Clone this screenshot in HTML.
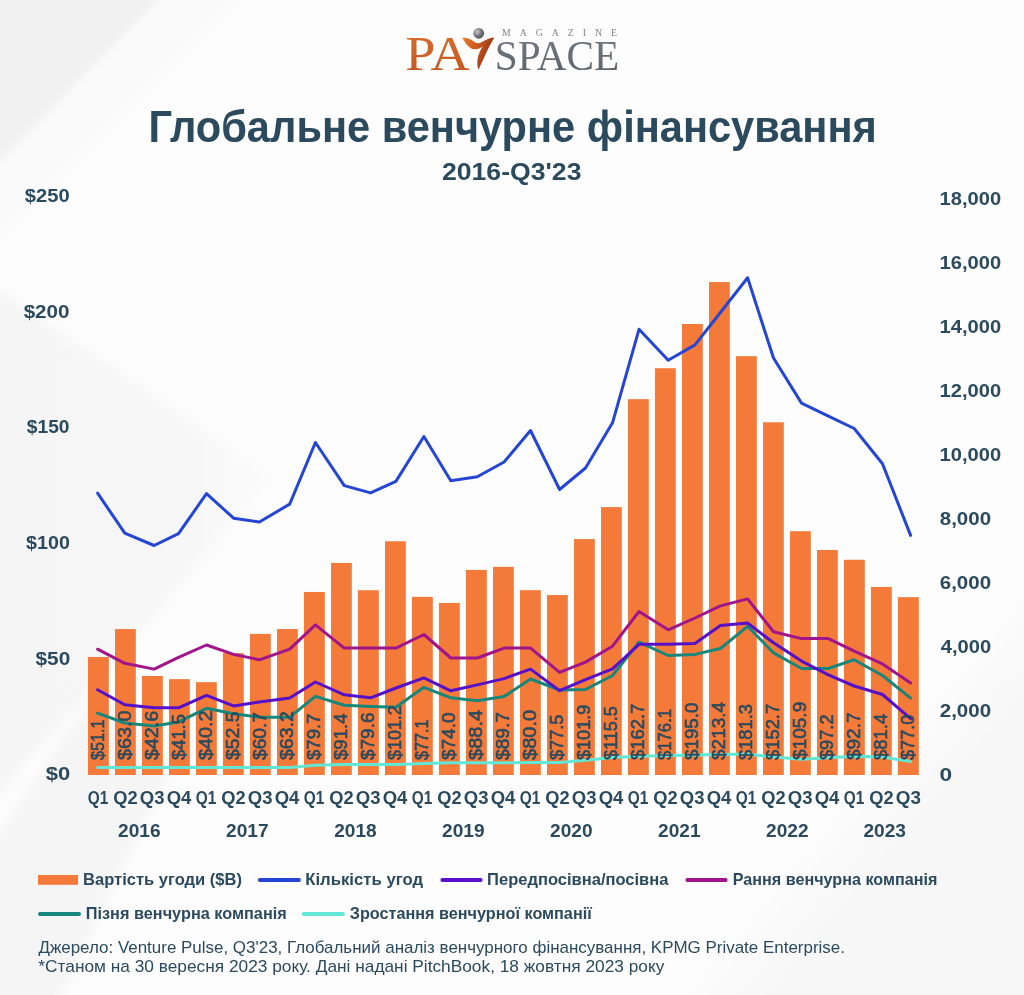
<!DOCTYPE html>
<html><head><meta charset="utf-8"><title>Глобальне венчурне фінансування</title>
<style>html,body{margin:0;padding:0;background:#fdfdfd;width:1024px;height:995px;overflow:hidden}svg{display:block;will-change:transform}</style>
</head><body>
<svg width="1024" height="995" viewBox="0 0 1024 995"><defs>
<linearGradient id="pag" x1="0" y1="0" x2="0" y2="1"><stop offset="0" stop-color="#d9702f"/><stop offset="1" stop-color="#c0541f"/></linearGradient>
<linearGradient id="swg" x1="0" y1="0" x2="1" y2="0.4"><stop offset="0" stop-color="#ea7f2c"/><stop offset="0.55" stop-color="#c65420"/><stop offset="1" stop-color="#8f2f10"/></linearGradient>
<linearGradient id="spg" x1="0" y1="0" x2="0" y2="1"><stop offset="0" stop-color="#747b83"/><stop offset="1" stop-color="#5a6169"/></linearGradient>
<radialGradient id="ballg" cx="0.35" cy="0.35" r="0.7"><stop offset="0" stop-color="#c9cbcd"/><stop offset="0.5" stop-color="#7d8185"/><stop offset="1" stop-color="#4a4e53"/></radialGradient>
</defs>
<rect x="0" y="0" width="1024" height="995" fill="#fdfdfd"/>
<filter id="bl1" x="-20%" y="-20%" width="140%" height="140%"><feGaussianBlur stdDeviation="10"/></filter>
<filter id="bl2" x="-20%" y="-20%" width="140%" height="140%"><feGaussianBlur stdDeviation="30"/></filter>
<g filter="url(#bl2)">
<polygon points="1084,560 1084,1060 660,1060" fill="#f7f7f7"/>
</g>
<g filter="url(#bl1)">
<polygon points="-40,-40 280,-40 -40,280" fill="#fafafb"/>
</g>
<filter id="bl3" x="-20%" y="-20%" width="140%" height="140%"><feGaussianBlur stdDeviation="3"/></filter>
<g filter="url(#bl3)">
<polygon points="-20,-20 178,-20 -20,180" fill="#f1f1f2"/>
<line x1="168" y1="-5" x2="-5" y2="170" stroke="#fafafa" stroke-width="5"/>
</g>
<linearGradient id="bandg" x1="0" y1="0" x2="1" y2="0"><stop offset="0" stop-color="#f4f4f5"/><stop offset="0.7" stop-color="#f7f7f8"/><stop offset="1" stop-color="#fbfbfb"/></linearGradient>
<filter id="bl4" x="-20%" y="-20%" width="140%" height="140%"><feGaussianBlur stdDeviation="6"/></filter>
<g filter="url(#bl4)">
<polygon points="-20,278 275,478 -20,815" fill="url(#bandg)"/>
<polygon points="-40,888 100,686 170,770 40,1040 -40,1040" fill="#f5f5f6"/>
</g>
<g>
<text x="405.2" y="70" font-family="&quot;Liberation Serif&quot;, serif" font-size="47.5" fill="url(#pag)" textLength="64.5" lengthAdjust="spacingAndGlyphs">PA</text>
<text x="494.8" y="69.6" font-family="&quot;Liberation Serif&quot;, serif" font-size="43" fill="url(#spg)" textLength="124.5" lengthAdjust="spacingAndGlyphs">SPACE</text>
<text x="502" y="36.3" font-family="&quot;Liberation Serif&quot;, serif" font-size="9.8" fill="#80868c" textLength="115" lengthAdjust="spacing">MAGAZINE</text>
<circle cx="478.7" cy="33.3" r="5.4" fill="url(#ballg)"/>
<path d="M462.2,37.8 C466,37.2 470,38.5 473.5,41.2 C475.5,42.8 477.5,43.6 479.5,43.0 C483,41.8 488,37.6 494.4,37.4 C491.5,42 488.5,48 485.5,54.5 C482.5,61 480,66 478.5,70 C476.5,64 477.2,57 480,51.2 C481,49 482,47.5 483,46.3 C480,48.5 477,49.8 473.5,49.2 C469,48.4 465.5,43.5 462.2,37.8 Z" fill="url(#swg)"/>
</g>
<text id="title" x="148.46" y="141.8" font-family="&quot;Liberation Sans&quot;, sans-serif" font-weight="bold" font-size="44.2" fill="#2b4a5d" textLength="728.36" lengthAdjust="spacingAndGlyphs">Глобальне венчурне фінансування</text>
<text id="subtitle" x="441.94" y="180.2" font-family="&quot;Liberation Sans&quot;, sans-serif" font-weight="bold" font-size="23.5" fill="#2b4a5d" textLength="139.55" lengthAdjust="spacingAndGlyphs">2016-Q3'23</text>
<text id="ax0" x="24.85" y="202.1" font-family="&quot;Liberation Sans&quot;, sans-serif" font-weight="bold" font-size="18.6" fill="#2b4a5d" textLength="44.77" lengthAdjust="spacingAndGlyphs">$250</text>
<text id="ax1" x="23.67" y="317.7" font-family="&quot;Liberation Sans&quot;, sans-serif" font-weight="bold" font-size="18.6" fill="#2b4a5d" textLength="45.89" lengthAdjust="spacingAndGlyphs">$200</text>
<text id="ax2" x="26.89" y="433.3" font-family="&quot;Liberation Sans&quot;, sans-serif" font-weight="bold" font-size="18.6" fill="#2b4a5d" textLength="42.66" lengthAdjust="spacingAndGlyphs">$150</text>
<text id="ax3" x="26.13" y="548.9" font-family="&quot;Liberation Sans&quot;, sans-serif" font-weight="bold" font-size="18.6" fill="#2b4a5d" textLength="43.75" lengthAdjust="spacingAndGlyphs">$100</text>
<text id="ax4" x="35.53" y="664.5" font-family="&quot;Liberation Sans&quot;, sans-serif" font-weight="bold" font-size="18.6" fill="#2b4a5d" textLength="34.74" lengthAdjust="spacingAndGlyphs">$50</text>
<text id="ax5" x="45.68" y="780.1" font-family="&quot;Liberation Sans&quot;, sans-serif" font-weight="bold" font-size="18.6" fill="#2b4a5d" textLength="24.50" lengthAdjust="spacingAndGlyphs">$0</text>
<text id="ay0" x="939.58" y="204.9" font-family="&quot;Liberation Sans&quot;, sans-serif" font-weight="bold" font-size="17.9" fill="#2b4a5d" textLength="61.56" lengthAdjust="spacingAndGlyphs">18,000</text>
<text id="ay1" x="939.58" y="268.9" font-family="&quot;Liberation Sans&quot;, sans-serif" font-weight="bold" font-size="17.9" fill="#2b4a5d" textLength="61.56" lengthAdjust="spacingAndGlyphs">16,000</text>
<text id="ay2" x="939.58" y="332.9" font-family="&quot;Liberation Sans&quot;, sans-serif" font-weight="bold" font-size="17.9" fill="#2b4a5d" textLength="61.56" lengthAdjust="spacingAndGlyphs">14,000</text>
<text id="ay3" x="939.58" y="396.9" font-family="&quot;Liberation Sans&quot;, sans-serif" font-weight="bold" font-size="17.9" fill="#2b4a5d" textLength="61.56" lengthAdjust="spacingAndGlyphs">12,000</text>
<text id="ay4" x="939.58" y="460.9" font-family="&quot;Liberation Sans&quot;, sans-serif" font-weight="bold" font-size="17.9" fill="#2b4a5d" textLength="61.56" lengthAdjust="spacingAndGlyphs">10,000</text>
<text id="ay5" x="939.74" y="524.9" font-family="&quot;Liberation Sans&quot;, sans-serif" font-weight="bold" font-size="17.9" fill="#2b4a5d" textLength="51.34" lengthAdjust="spacingAndGlyphs">8,000</text>
<text id="ay6" x="939.74" y="588.9" font-family="&quot;Liberation Sans&quot;, sans-serif" font-weight="bold" font-size="17.9" fill="#2b4a5d" textLength="51.34" lengthAdjust="spacingAndGlyphs">6,000</text>
<text id="ay7" x="940.72" y="652.9" font-family="&quot;Liberation Sans&quot;, sans-serif" font-weight="bold" font-size="17.9" fill="#2b4a5d" textLength="50.36" lengthAdjust="spacingAndGlyphs">4,000</text>
<text id="ay8" x="939.74" y="716.9" font-family="&quot;Liberation Sans&quot;, sans-serif" font-weight="bold" font-size="17.9" fill="#2b4a5d" textLength="51.34" lengthAdjust="spacingAndGlyphs">2,000</text>
<text id="ay9" x="939.62" y="780.9" font-family="&quot;Liberation Sans&quot;, sans-serif" font-weight="bold" font-size="17.9" fill="#2b4a5d" textLength="12.65" lengthAdjust="spacingAndGlyphs">0</text>
<rect x="88.00" y="656.96" width="20.8" height="118.04" fill="#f47a3a"/>
<rect x="115.00" y="629.07" width="20.8" height="145.93" fill="#f47a3a"/>
<rect x="142.00" y="675.99" width="20.8" height="99.01" fill="#f47a3a"/>
<rect x="169.00" y="679.13" width="20.8" height="95.87" fill="#f47a3a"/>
<rect x="196.00" y="682.14" width="20.8" height="92.86" fill="#f47a3a"/>
<rect x="223.00" y="653.12" width="20.8" height="121.88" fill="#f47a3a"/>
<rect x="250.00" y="633.88" width="20.8" height="141.12" fill="#f47a3a"/>
<rect x="277.00" y="629.01" width="20.8" height="145.99" fill="#f47a3a"/>
<rect x="304.00" y="591.99" width="20.8" height="183.01" fill="#f47a3a"/>
<rect x="331.00" y="562.97" width="20.8" height="212.03" fill="#f47a3a"/>
<rect x="358.00" y="590.22" width="20.8" height="184.78" fill="#f47a3a"/>
<rect x="385.00" y="541.23" width="20.8" height="233.77" fill="#f47a3a"/>
<rect x="412.00" y="596.90" width="20.8" height="178.10" fill="#f47a3a"/>
<rect x="439.00" y="602.96" width="20.8" height="172.04" fill="#f47a3a"/>
<rect x="466.00" y="569.90" width="20.8" height="205.10" fill="#f47a3a"/>
<rect x="493.00" y="566.89" width="20.8" height="208.11" fill="#f47a3a"/>
<rect x="520.00" y="590.20" width="20.8" height="184.80" fill="#f47a3a"/>
<rect x="547.00" y="595.08" width="20.8" height="179.93" fill="#f47a3a"/>
<rect x="574.00" y="539.06" width="20.8" height="235.94" fill="#f47a3a"/>
<rect x="601.00" y="507.09" width="20.8" height="267.91" fill="#f47a3a"/>
<rect x="628.00" y="399.16" width="20.8" height="375.84" fill="#f47a3a"/>
<rect x="655.00" y="368.21" width="20.8" height="406.79" fill="#f47a3a"/>
<rect x="682.00" y="323.99" width="20.8" height="451.01" fill="#f47a3a"/>
<rect x="709.00" y="282.05" width="20.8" height="492.95" fill="#f47a3a"/>
<rect x="736.00" y="356.20" width="20.8" height="418.80" fill="#f47a3a"/>
<rect x="763.00" y="422.26" width="20.8" height="352.74" fill="#f47a3a"/>
<rect x="790.00" y="531.17" width="20.8" height="243.83" fill="#f47a3a"/>
<rect x="817.00" y="549.97" width="20.8" height="225.03" fill="#f47a3a"/>
<rect x="844.00" y="559.76" width="20.8" height="215.24" fill="#f47a3a"/>
<rect x="871.00" y="586.97" width="20.8" height="188.03" fill="#f47a3a"/>
<rect x="898.00" y="597.13" width="20.8" height="177.87" fill="#f47a3a"/>
<polyline points="97.60,767.60 124.80,767.60 154.10,767.60 178.50,767.60 206.50,767.60 233.60,767.60 259.40,767.60 289.70,767.60 315.40,765.20 344.30,764.60 370.60,764.60 395.90,764.60 423.90,763.40 450.80,762.70 477.30,762.70 504.10,762.70 530.50,762.60 559.60,762.60 585.50,760.30 612.50,757.50 639.00,756.30 668.20,755.60 695.00,755.10 720.40,754.40 747.60,754.00 773.50,757.10 801.50,759.20 828.40,757.80 854.20,756.30 882.50,757.10 910.60,761.60" fill="none" stroke="#62e6d6" stroke-width="3" stroke-linejoin="round" stroke-linecap="round"/>
<polyline points="97.60,713.20 124.80,723.00 154.10,726.10 178.50,721.90 206.50,708.30 233.60,713.70 259.40,717.20 289.70,717.20 315.40,696.40 344.30,705.30 370.60,706.50 395.90,707.20 423.90,687.30 450.80,697.80 477.30,700.80 504.10,696.60 530.50,679.00 559.60,690.00 585.50,689.50 612.50,675.50 639.00,642.20 668.20,655.50 695.00,654.40 720.40,648.50 747.60,626.30 773.50,652.90 801.50,668.50 828.40,668.50 854.20,659.70 882.50,675.50 910.60,698.10" fill="none" stroke="#16877a" stroke-width="3" stroke-linejoin="round" stroke-linecap="round"/>
<polyline points="97.60,689.80 124.80,704.80 154.10,707.80 178.50,707.80 206.50,695.40 233.60,705.90 259.40,702.00 289.70,698.00 315.40,682.00 344.30,694.80 370.60,697.80 395.90,688.00 423.90,677.90 450.80,690.80 477.30,684.90 504.10,678.60 530.50,669.10 559.60,690.70 585.50,679.70 612.50,668.90 639.00,644.30 668.20,644.30 695.00,643.40 720.40,625.50 747.60,623.00 773.50,642.80 801.50,661.10 828.40,674.90 854.20,686.00 882.50,694.50 910.60,718.70" fill="none" stroke="#5510c9" stroke-width="3" stroke-linejoin="round" stroke-linecap="round"/>
<polyline points="97.60,649.20 124.80,663.30 154.10,669.10 178.50,657.40 206.50,645.00 233.60,654.40 259.40,659.80 289.70,649.20 315.40,624.90 344.30,648.10 370.60,648.10 395.90,648.10 423.90,634.50 450.80,658.00 477.30,658.00 504.10,648.10 530.50,648.10 559.60,672.40 585.50,662.10 612.50,646.20 639.00,611.50 668.20,629.80 695.00,618.00 720.40,605.90 747.60,598.90 773.50,631.80 801.50,638.60 828.40,638.60 854.20,651.20 882.50,663.90 910.60,682.90" fill="none" stroke="#a1158b" stroke-width="3" stroke-linejoin="round" stroke-linecap="round"/>
<polyline points="97.60,493.20 124.80,533.20 154.10,545.50 178.50,533.70 206.50,493.60 233.60,518.20 259.40,522.00 289.70,504.10 315.40,442.50 344.30,485.60 370.60,492.90 395.90,481.40 423.90,436.50 450.80,480.80 477.30,476.70 504.10,462.00 530.50,430.50 559.60,489.50 585.50,468.00 612.50,422.80 639.00,329.30 668.20,360.20 695.00,344.90 720.40,312.50 747.60,277.80 773.50,358.00 801.50,403.10 828.40,416.10 854.20,428.50 882.50,463.80 910.60,535.40" fill="none" stroke="#2546d4" stroke-width="3" stroke-linejoin="round" stroke-linecap="round"/>
<text id="lab0" transform="translate(104.07,760.0) rotate(-90)" font-family="&quot;Liberation Sans&quot;, sans-serif" font-weight="normal" font-size="17.8" fill="#2b4a5d" stroke="#2b4a5d" stroke-width="0.6" textLength="40.56" lengthAdjust="spacingAndGlyphs">$51.1</text>
<text id="lab1" transform="translate(131.07,760.0) rotate(-90)" font-family="&quot;Liberation Sans&quot;, sans-serif" font-weight="normal" font-size="17.8" fill="#2b4a5d" stroke="#2b4a5d" stroke-width="0.6" textLength="49.66" lengthAdjust="spacingAndGlyphs">$63.0</text>
<text id="lab2" transform="translate(158.07,760.0) rotate(-90)" font-family="&quot;Liberation Sans&quot;, sans-serif" font-weight="normal" font-size="17.8" fill="#2b4a5d" stroke="#2b4a5d" stroke-width="0.6" textLength="49.05" lengthAdjust="spacingAndGlyphs">$42.6</text>
<text id="lab3" transform="translate(185.07,760.0) rotate(-90)" font-family="&quot;Liberation Sans&quot;, sans-serif" font-weight="normal" font-size="17.8" fill="#2b4a5d" stroke="#2b4a5d" stroke-width="0.6" textLength="45.92" lengthAdjust="spacingAndGlyphs">$41.5</text>
<text id="lab4" transform="translate(212.07,760.0) rotate(-90)" font-family="&quot;Liberation Sans&quot;, sans-serif" font-weight="normal" font-size="17.8" fill="#2b4a5d" stroke="#2b4a5d" stroke-width="0.6" textLength="49.66" lengthAdjust="spacingAndGlyphs">$40.2</text>
<text id="lab5" transform="translate(239.07,760.0) rotate(-90)" font-family="&quot;Liberation Sans&quot;, sans-serif" font-weight="normal" font-size="17.8" fill="#2b4a5d" stroke="#2b4a5d" stroke-width="0.6" textLength="48.55" lengthAdjust="spacingAndGlyphs">$52.5</text>
<text id="lab6" transform="translate(266.07,760.0) rotate(-90)" font-family="&quot;Liberation Sans&quot;, sans-serif" font-weight="normal" font-size="17.8" fill="#2b4a5d" stroke="#2b4a5d" stroke-width="0.6" textLength="48.04" lengthAdjust="spacingAndGlyphs">$60.7</text>
<text id="lab7" transform="translate(293.07,760.0) rotate(-90)" font-family="&quot;Liberation Sans&quot;, sans-serif" font-weight="normal" font-size="17.8" fill="#2b4a5d" stroke="#2b4a5d" stroke-width="0.6" textLength="48.75" lengthAdjust="spacingAndGlyphs">$63.2</text>
<text id="lab8" transform="translate(320.07,760.0) rotate(-90)" font-family="&quot;Liberation Sans&quot;, sans-serif" font-weight="normal" font-size="17.8" fill="#2b4a5d" stroke="#2b4a5d" stroke-width="0.6" textLength="46.42" lengthAdjust="spacingAndGlyphs">$79.7</text>
<text id="lab9" transform="translate(347.07,760.0) rotate(-90)" font-family="&quot;Liberation Sans&quot;, sans-serif" font-weight="normal" font-size="17.8" fill="#2b4a5d" stroke="#2b4a5d" stroke-width="0.6" textLength="46.62" lengthAdjust="spacingAndGlyphs">$91.4</text>
<text id="lab10" transform="translate(374.07,760.0) rotate(-90)" font-family="&quot;Liberation Sans&quot;, sans-serif" font-weight="normal" font-size="17.8" fill="#2b4a5d" stroke="#2b4a5d" stroke-width="0.6" textLength="47.53" lengthAdjust="spacingAndGlyphs">$79.6</text>
<text id="lab11" transform="translate(401.07,760.0) rotate(-90)" font-family="&quot;Liberation Sans&quot;, sans-serif" font-weight="normal" font-size="17.8" fill="#2b4a5d" stroke="#2b4a5d" stroke-width="0.6" textLength="54.79" lengthAdjust="spacingAndGlyphs">$101.2</text>
<text id="lab12" transform="translate(428.07,760.0) rotate(-90)" font-family="&quot;Liberation Sans&quot;, sans-serif" font-weight="normal" font-size="17.8" fill="#2b4a5d" stroke="#2b4a5d" stroke-width="0.6" textLength="40.56" lengthAdjust="spacingAndGlyphs">$77.1</text>
<text id="lab13" transform="translate(455.07,760.0) rotate(-90)" font-family="&quot;Liberation Sans&quot;, sans-serif" font-weight="normal" font-size="17.8" fill="#2b4a5d" stroke="#2b4a5d" stroke-width="0.6" textLength="47.53" lengthAdjust="spacingAndGlyphs">$74.0</text>
<text id="lab14" transform="translate(482.07,760.0) rotate(-90)" font-family="&quot;Liberation Sans&quot;, sans-serif" font-weight="normal" font-size="17.8" fill="#2b4a5d" stroke="#2b4a5d" stroke-width="0.6" textLength="50.16" lengthAdjust="spacingAndGlyphs">$88.4</text>
<text id="lab15" transform="translate(509.07,760.0) rotate(-90)" font-family="&quot;Liberation Sans&quot;, sans-serif" font-weight="normal" font-size="17.8" fill="#2b4a5d" stroke="#2b4a5d" stroke-width="0.6" textLength="48.04" lengthAdjust="spacingAndGlyphs">$89.7</text>
<text id="lab16" transform="translate(536.07,760.0) rotate(-90)" font-family="&quot;Liberation Sans&quot;, sans-serif" font-weight="normal" font-size="17.8" fill="#2b4a5d" stroke="#2b4a5d" stroke-width="0.6" textLength="50.16" lengthAdjust="spacingAndGlyphs">$80.0</text>
<text id="lab17" transform="translate(563.07,760.0) rotate(-90)" font-family="&quot;Liberation Sans&quot;, sans-serif" font-weight="normal" font-size="17.8" fill="#2b4a5d" stroke="#2b4a5d" stroke-width="0.6" textLength="45.41" lengthAdjust="spacingAndGlyphs">$77.5</text>
<text id="lab18" transform="translate(590.07,760.0) rotate(-90)" font-family="&quot;Liberation Sans&quot;, sans-serif" font-weight="normal" font-size="17.8" fill="#2b4a5d" stroke="#2b4a5d" stroke-width="0.6" textLength="55.30" lengthAdjust="spacingAndGlyphs">$101.9</text>
<text id="lab19" transform="translate(617.07,760.0) rotate(-90)" font-family="&quot;Liberation Sans&quot;, sans-serif" font-weight="normal" font-size="17.8" fill="#2b4a5d" stroke="#2b4a5d" stroke-width="0.6" textLength="53.88" lengthAdjust="spacingAndGlyphs">$115.5</text>
<text id="lab20" transform="translate(644.07,760.0) rotate(-90)" font-family="&quot;Liberation Sans&quot;, sans-serif" font-weight="normal" font-size="17.8" fill="#2b4a5d" stroke="#2b4a5d" stroke-width="0.6" textLength="56.30" lengthAdjust="spacingAndGlyphs">$162.7</text>
<text id="lab21" transform="translate(671.07,760.0) rotate(-90)" font-family="&quot;Liberation Sans&quot;, sans-serif" font-weight="normal" font-size="17.8" fill="#2b4a5d" stroke="#2b4a5d" stroke-width="0.6" textLength="51.07" lengthAdjust="spacingAndGlyphs">$176.1</text>
<text id="lab22" transform="translate(698.07,760.0) rotate(-90)" font-family="&quot;Liberation Sans&quot;, sans-serif" font-weight="normal" font-size="17.8" fill="#2b4a5d" stroke="#2b4a5d" stroke-width="0.6" textLength="57.41" lengthAdjust="spacingAndGlyphs">$195.0</text>
<text id="lab23" transform="translate(725.07,760.0) rotate(-90)" font-family="&quot;Liberation Sans&quot;, sans-serif" font-weight="normal" font-size="17.8" fill="#2b4a5d" stroke="#2b4a5d" stroke-width="0.6" textLength="58.12" lengthAdjust="spacingAndGlyphs">$213.4</text>
<text id="lab24" transform="translate(752.07,760.0) rotate(-90)" font-family="&quot;Liberation Sans&quot;, sans-serif" font-weight="normal" font-size="17.8" fill="#2b4a5d" stroke="#2b4a5d" stroke-width="0.6" textLength="56.00" lengthAdjust="spacingAndGlyphs">$181.3</text>
<text id="lab25" transform="translate(779.07,760.0) rotate(-90)" font-family="&quot;Liberation Sans&quot;, sans-serif" font-weight="normal" font-size="17.8" fill="#2b4a5d" stroke="#2b4a5d" stroke-width="0.6" textLength="56.20" lengthAdjust="spacingAndGlyphs">$152.7</text>
<text id="lab26" transform="translate(806.07,760.0) rotate(-90)" font-family="&quot;Liberation Sans&quot;, sans-serif" font-weight="normal" font-size="17.8" fill="#2b4a5d" stroke="#2b4a5d" stroke-width="0.6" textLength="58.22" lengthAdjust="spacingAndGlyphs">$105.9</text>
<text id="lab27" transform="translate(833.07,760.0) rotate(-90)" font-family="&quot;Liberation Sans&quot;, sans-serif" font-weight="normal" font-size="17.8" fill="#2b4a5d" stroke="#2b4a5d" stroke-width="0.6" textLength="45.51" lengthAdjust="spacingAndGlyphs">$97.2</text>
<text id="lab28" transform="translate(860.07,760.0) rotate(-90)" font-family="&quot;Liberation Sans&quot;, sans-serif" font-weight="normal" font-size="17.8" fill="#2b4a5d" stroke="#2b4a5d" stroke-width="0.6" textLength="47.53" lengthAdjust="spacingAndGlyphs">$92.7</text>
<text id="lab29" transform="translate(887.07,760.0) rotate(-90)" font-family="&quot;Liberation Sans&quot;, sans-serif" font-weight="normal" font-size="17.8" fill="#2b4a5d" stroke="#2b4a5d" stroke-width="0.6" textLength="46.22" lengthAdjust="spacingAndGlyphs">$81.4</text>
<text id="lab30" transform="translate(914.07,760.0) rotate(-90)" font-family="&quot;Liberation Sans&quot;, sans-serif" font-weight="normal" font-size="17.8" fill="#2b4a5d" stroke="#2b4a5d" stroke-width="0.6" textLength="45.31" lengthAdjust="spacingAndGlyphs">$77.0</text>
<text id="q0" x="87.83" y="803.9" font-family="&quot;Liberation Sans&quot;, sans-serif" font-weight="bold" font-size="18.2" fill="#2b4a5d" textLength="20.57" lengthAdjust="spacingAndGlyphs">Q1</text>
<text id="q1" x="113.36" y="803.9" font-family="&quot;Liberation Sans&quot;, sans-serif" font-weight="bold" font-size="18.2" fill="#2b4a5d" textLength="24.35" lengthAdjust="spacingAndGlyphs">Q2</text>
<text id="q2" x="139.75" y="803.9" font-family="&quot;Liberation Sans&quot;, sans-serif" font-weight="bold" font-size="18.2" fill="#2b4a5d" textLength="24.66" lengthAdjust="spacingAndGlyphs">Q3</text>
<text id="q3" x="166.74" y="803.9" font-family="&quot;Liberation Sans&quot;, sans-serif" font-weight="bold" font-size="18.2" fill="#2b4a5d" textLength="24.67" lengthAdjust="spacingAndGlyphs">Q4</text>
<text id="q4" x="195.83" y="803.9" font-family="&quot;Liberation Sans&quot;, sans-serif" font-weight="bold" font-size="18.2" fill="#2b4a5d" textLength="20.57" lengthAdjust="spacingAndGlyphs">Q1</text>
<text id="q5" x="221.36" y="803.9" font-family="&quot;Liberation Sans&quot;, sans-serif" font-weight="bold" font-size="18.2" fill="#2b4a5d" textLength="24.35" lengthAdjust="spacingAndGlyphs">Q2</text>
<text id="q6" x="247.75" y="803.9" font-family="&quot;Liberation Sans&quot;, sans-serif" font-weight="bold" font-size="18.2" fill="#2b4a5d" textLength="24.66" lengthAdjust="spacingAndGlyphs">Q3</text>
<text id="q7" x="274.74" y="803.9" font-family="&quot;Liberation Sans&quot;, sans-serif" font-weight="bold" font-size="18.2" fill="#2b4a5d" textLength="24.67" lengthAdjust="spacingAndGlyphs">Q4</text>
<text id="q8" x="303.83" y="803.9" font-family="&quot;Liberation Sans&quot;, sans-serif" font-weight="bold" font-size="18.2" fill="#2b4a5d" textLength="20.57" lengthAdjust="spacingAndGlyphs">Q1</text>
<text id="q9" x="329.36" y="803.9" font-family="&quot;Liberation Sans&quot;, sans-serif" font-weight="bold" font-size="18.2" fill="#2b4a5d" textLength="24.35" lengthAdjust="spacingAndGlyphs">Q2</text>
<text id="q10" x="355.75" y="803.9" font-family="&quot;Liberation Sans&quot;, sans-serif" font-weight="bold" font-size="18.2" fill="#2b4a5d" textLength="24.66" lengthAdjust="spacingAndGlyphs">Q3</text>
<text id="q11" x="382.74" y="803.9" font-family="&quot;Liberation Sans&quot;, sans-serif" font-weight="bold" font-size="18.2" fill="#2b4a5d" textLength="24.67" lengthAdjust="spacingAndGlyphs">Q4</text>
<text id="q12" x="411.83" y="803.9" font-family="&quot;Liberation Sans&quot;, sans-serif" font-weight="bold" font-size="18.2" fill="#2b4a5d" textLength="20.57" lengthAdjust="spacingAndGlyphs">Q1</text>
<text id="q13" x="437.36" y="803.9" font-family="&quot;Liberation Sans&quot;, sans-serif" font-weight="bold" font-size="18.2" fill="#2b4a5d" textLength="24.35" lengthAdjust="spacingAndGlyphs">Q2</text>
<text id="q14" x="463.75" y="803.9" font-family="&quot;Liberation Sans&quot;, sans-serif" font-weight="bold" font-size="18.2" fill="#2b4a5d" textLength="24.66" lengthAdjust="spacingAndGlyphs">Q3</text>
<text id="q15" x="490.74" y="803.9" font-family="&quot;Liberation Sans&quot;, sans-serif" font-weight="bold" font-size="18.2" fill="#2b4a5d" textLength="24.67" lengthAdjust="spacingAndGlyphs">Q4</text>
<text id="q16" x="519.83" y="803.9" font-family="&quot;Liberation Sans&quot;, sans-serif" font-weight="bold" font-size="18.2" fill="#2b4a5d" textLength="20.57" lengthAdjust="spacingAndGlyphs">Q1</text>
<text id="q17" x="545.36" y="803.9" font-family="&quot;Liberation Sans&quot;, sans-serif" font-weight="bold" font-size="18.2" fill="#2b4a5d" textLength="24.35" lengthAdjust="spacingAndGlyphs">Q2</text>
<text id="q18" x="571.75" y="803.9" font-family="&quot;Liberation Sans&quot;, sans-serif" font-weight="bold" font-size="18.2" fill="#2b4a5d" textLength="24.66" lengthAdjust="spacingAndGlyphs">Q3</text>
<text id="q19" x="598.74" y="803.9" font-family="&quot;Liberation Sans&quot;, sans-serif" font-weight="bold" font-size="18.2" fill="#2b4a5d" textLength="24.67" lengthAdjust="spacingAndGlyphs">Q4</text>
<text id="q20" x="627.83" y="803.9" font-family="&quot;Liberation Sans&quot;, sans-serif" font-weight="bold" font-size="18.2" fill="#2b4a5d" textLength="20.57" lengthAdjust="spacingAndGlyphs">Q1</text>
<text id="q21" x="653.36" y="803.9" font-family="&quot;Liberation Sans&quot;, sans-serif" font-weight="bold" font-size="18.2" fill="#2b4a5d" textLength="24.35" lengthAdjust="spacingAndGlyphs">Q2</text>
<text id="q22" x="679.75" y="803.9" font-family="&quot;Liberation Sans&quot;, sans-serif" font-weight="bold" font-size="18.2" fill="#2b4a5d" textLength="24.66" lengthAdjust="spacingAndGlyphs">Q3</text>
<text id="q23" x="706.74" y="803.9" font-family="&quot;Liberation Sans&quot;, sans-serif" font-weight="bold" font-size="18.2" fill="#2b4a5d" textLength="24.67" lengthAdjust="spacingAndGlyphs">Q4</text>
<text id="q24" x="735.83" y="803.9" font-family="&quot;Liberation Sans&quot;, sans-serif" font-weight="bold" font-size="18.2" fill="#2b4a5d" textLength="20.57" lengthAdjust="spacingAndGlyphs">Q1</text>
<text id="q25" x="761.36" y="803.9" font-family="&quot;Liberation Sans&quot;, sans-serif" font-weight="bold" font-size="18.2" fill="#2b4a5d" textLength="24.35" lengthAdjust="spacingAndGlyphs">Q2</text>
<text id="q26" x="787.75" y="803.9" font-family="&quot;Liberation Sans&quot;, sans-serif" font-weight="bold" font-size="18.2" fill="#2b4a5d" textLength="24.66" lengthAdjust="spacingAndGlyphs">Q3</text>
<text id="q27" x="814.74" y="803.9" font-family="&quot;Liberation Sans&quot;, sans-serif" font-weight="bold" font-size="18.2" fill="#2b4a5d" textLength="24.67" lengthAdjust="spacingAndGlyphs">Q4</text>
<text id="q28" x="843.83" y="803.9" font-family="&quot;Liberation Sans&quot;, sans-serif" font-weight="bold" font-size="18.2" fill="#2b4a5d" textLength="20.57" lengthAdjust="spacingAndGlyphs">Q1</text>
<text id="q29" x="869.36" y="803.9" font-family="&quot;Liberation Sans&quot;, sans-serif" font-weight="bold" font-size="18.2" fill="#2b4a5d" textLength="24.35" lengthAdjust="spacingAndGlyphs">Q2</text>
<text id="q30" x="895.76" y="803.9" font-family="&quot;Liberation Sans&quot;, sans-serif" font-weight="bold" font-size="18.2" fill="#2b4a5d" textLength="25.17" lengthAdjust="spacingAndGlyphs">Q3</text>
<text id="yr0" x="118.14" y="836.8" font-family="&quot;Liberation Sans&quot;, sans-serif" font-weight="bold" font-size="17.8" fill="#2b4a5d" textLength="42.50" lengthAdjust="spacingAndGlyphs">2016</text>
<text id="yr1" x="226.14" y="836.8" font-family="&quot;Liberation Sans&quot;, sans-serif" font-weight="bold" font-size="17.8" fill="#2b4a5d" textLength="42.50" lengthAdjust="spacingAndGlyphs">2017</text>
<text id="yr2" x="334.16" y="836.8" font-family="&quot;Liberation Sans&quot;, sans-serif" font-weight="bold" font-size="17.8" fill="#2b4a5d" textLength="42.50" lengthAdjust="spacingAndGlyphs">2018</text>
<text id="yr3" x="442.14" y="836.8" font-family="&quot;Liberation Sans&quot;, sans-serif" font-weight="bold" font-size="17.8" fill="#2b4a5d" textLength="42.50" lengthAdjust="spacingAndGlyphs">2019</text>
<text id="yr4" x="550.14" y="836.8" font-family="&quot;Liberation Sans&quot;, sans-serif" font-weight="bold" font-size="17.8" fill="#2b4a5d" textLength="42.50" lengthAdjust="spacingAndGlyphs">2020</text>
<text id="yr5" x="658.12" y="836.8" font-family="&quot;Liberation Sans&quot;, sans-serif" font-weight="bold" font-size="17.8" fill="#2b4a5d" textLength="42.42" lengthAdjust="spacingAndGlyphs">2021</text>
<text id="yr6" x="766.14" y="836.8" font-family="&quot;Liberation Sans&quot;, sans-serif" font-weight="bold" font-size="17.8" fill="#2b4a5d" textLength="42.50" lengthAdjust="spacingAndGlyphs">2022</text>
<text id="yr7" x="863.47" y="836.8" font-family="&quot;Liberation Sans&quot;, sans-serif" font-weight="bold" font-size="17.8" fill="#2b4a5d" textLength="42.53" lengthAdjust="spacingAndGlyphs">2023</text>
<rect x="38" y="875" width="40" height="9.8" fill="#f47a3a"/>
<line x1="259.8" y1="879.9" x2="298.9" y2="879.9" stroke="#2546d4" stroke-width="4" stroke-linecap="round"/>
<line x1="442.4" y1="879.9" x2="480.6" y2="879.9" stroke="#5510c9" stroke-width="4" stroke-linecap="round"/>
<line x1="687.4" y1="879.9" x2="725.6" y2="879.9" stroke="#a1158b" stroke-width="4" stroke-linecap="round"/>
<line x1="40" y1="914" x2="79" y2="914" stroke="#16877a" stroke-width="4" stroke-linecap="round"/>
<line x1="303.8" y1="914" x2="342.9" y2="914" stroke="#62e6d6" stroke-width="4" stroke-linecap="round"/>
<text id="lg0" x="83.11" y="884.7" font-family="&quot;Liberation Sans&quot;, sans-serif" font-weight="bold" font-size="16.2" fill="#2b4a5d" textLength="158.89" lengthAdjust="spacingAndGlyphs">Вартість угоди ($B)</text>
<text id="lg1" x="305.27" y="884.7" font-family="&quot;Liberation Sans&quot;, sans-serif" font-weight="bold" font-size="16.2" fill="#2b4a5d" textLength="117.79" lengthAdjust="spacingAndGlyphs">Кількість угод</text>
<text id="lg2" x="487.14" y="884.7" font-family="&quot;Liberation Sans&quot;, sans-serif" font-weight="bold" font-size="16.2" fill="#2b4a5d" textLength="181.30" lengthAdjust="spacingAndGlyphs">Передпосівна/посівна</text>
<text id="lg3" x="732.77" y="884.7" font-family="&quot;Liberation Sans&quot;, sans-serif" font-weight="bold" font-size="16.2" fill="#2b4a5d" textLength="204.56" lengthAdjust="spacingAndGlyphs">Рання венчурна компанія</text>
<text id="lg4" x="85.75" y="918.8" font-family="&quot;Liberation Sans&quot;, sans-serif" font-weight="bold" font-size="16.2" fill="#2b4a5d" textLength="201.04" lengthAdjust="spacingAndGlyphs">Пізня венчурна компанія</text>
<text id="lg5" x="349.74" y="918.8" font-family="&quot;Liberation Sans&quot;, sans-serif" font-weight="bold" font-size="16.2" fill="#2b4a5d" textLength="242.02" lengthAdjust="spacingAndGlyphs">Зростання венчурної компанії</text>
<text id="ft0" x="38.42" y="952.7" font-family="&quot;Liberation Sans&quot;, sans-serif" font-weight="normal" font-size="15.7" fill="#2b4a5d" textLength="806.54" lengthAdjust="spacingAndGlyphs">Джерело: Venture Pulse, Q3'23, Глобальний аналіз венчурного фінансування, KPMG Private Enterprise.</text>
<text id="ft1" x="38.33" y="971.8" font-family="&quot;Liberation Sans&quot;, sans-serif" font-weight="normal" font-size="15.7" fill="#2b4a5d" textLength="625.97" lengthAdjust="spacingAndGlyphs">*Станом на 30 вересня 2023 року. Дані надані PitchBook, 18 жовтня 2023 року</text></svg>
</body></html>
